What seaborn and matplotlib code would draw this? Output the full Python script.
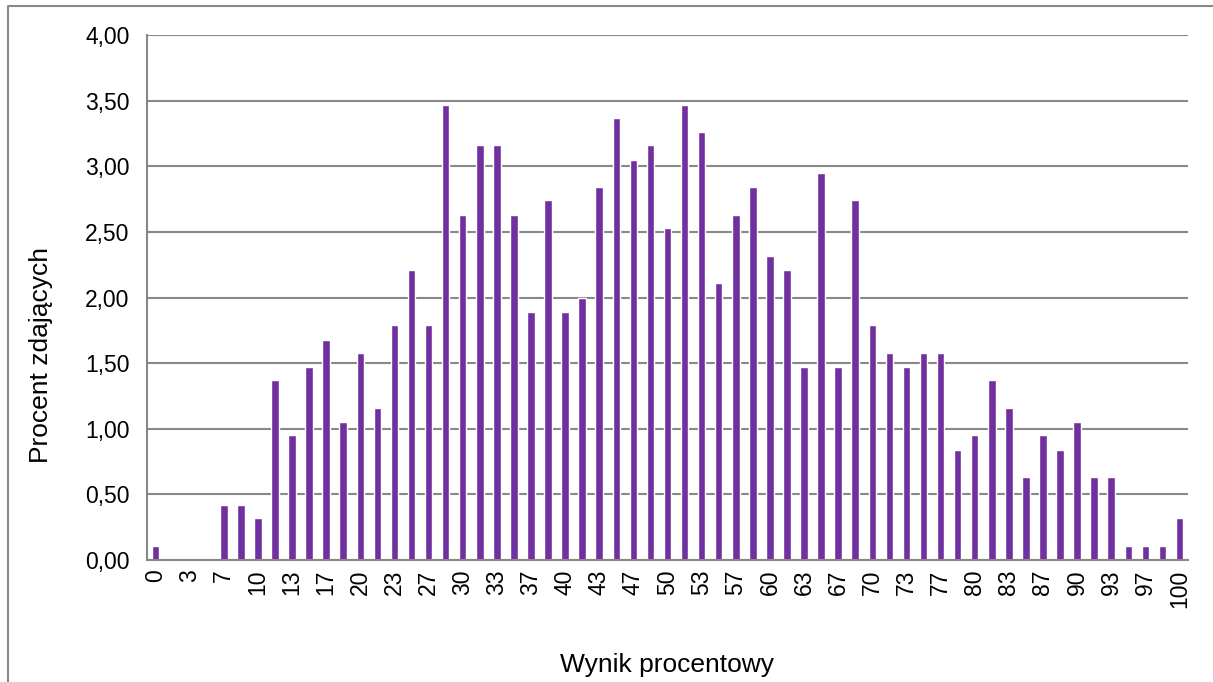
import numpy as np
import pandas as pd
import matplotlib
matplotlib.use('Agg')
import matplotlib.pyplot as plt
from matplotlib.lines import Line2D
from matplotlib.ticker import FuncFormatter, FixedLocator
import seaborn as sns

# Score categories (percent of max points) and share of students
wynik = [0, 2, 3, 5, 7, 8, 10, 12, 13, 15, 17, 18, 20, 22, 23, 25, 27, 28, 30, 32,
         33, 35, 37, 38, 40, 42, 43, 45, 47, 48, 50, 52, 53, 55, 57, 58, 60, 62, 63, 65,
         67, 68, 70, 72, 73, 75, 77, 78, 80, 82, 83, 85, 87, 88, 90, 92, 93, 95, 97, 98, 100]
procent = [0.11, 0.00, 0.00, 0.00, 0.42, 0.42, 0.32, 1.37, 0.95, 1.47,
           1.68, 1.05, 1.58, 1.16, 1.79, 2.21, 1.79, 3.47, 2.63, 3.16,
           3.16, 2.63, 1.89, 2.74, 1.89, 2.00, 2.84, 3.37, 3.05, 3.16,
           2.53, 3.47, 3.26, 2.11, 2.63, 2.84, 2.32, 2.21, 1.47, 2.95,
           1.47, 2.74, 1.79, 1.58, 1.47, 1.58, 1.58, 0.84, 0.95, 1.37,
           1.16, 0.63, 0.95, 0.84, 1.05, 0.63, 0.63, 0.11, 0.11, 0.11, 0.32]
y_ticks = [0, 0.5, 1.0, 1.5, 2.0, 2.5, 3.0, 3.5, 4.0]

df = pd.DataFrame({'wynik': [str(w) for w in wynik], 'procent': procent})

sns.set_style('white')
plt.rcParams['font.family'] = ['Liberation Sans', 'DejaVu Sans']
plt.rcParams['text.color'] = 'black'
plt.rcParams['axes.labelcolor'] = 'black'
plt.rcParams['xtick.labelcolor'] = 'black'
plt.rcParams['ytick.labelcolor'] = 'black'

fig = plt.figure(figsize=(12.13, 6.82), dpi=100)
ax = fig.add_axes([147 / 1213, 1 - 560 / 682, (1188 - 147) / 1213, (560 - 35) / 682])

sns.barplot(data=df, x='wynik', y='procent', order=df['wynik'].tolist(),
            color='#7030A0', saturation=1, width=0.44, ax=ax)

grid_c = '#888888'
ax.set_ylim(0, 4)
ax.set_xlim(-0.5, len(wynik) - 0.5)
ax.set_yticks(y_ticks)
ax.yaxis.set_major_formatter(FuncFormatter(lambda v, p: f'{v:.2f}'.replace('.', ',')))
ax.yaxis.grid(True, color=grid_c, linewidth=1.5)
ax.set_axisbelow(True)

# label every other category, ticks between categories
pos = list(range(0, len(wynik), 2))
ax.set_xticks(pos)
ax.set_xticklabels([df['wynik'][i] for i in pos], rotation=90)
ax.xaxis.set_minor_locator(FixedLocator(np.arange(-0.5, len(wynik), 1)))
ax.tick_params(axis='x', which='major', length=0, pad=7, labelsize=16.5)
ax.tick_params(axis='x', which='minor', length=4.5, color=grid_c, width=1.2)
ax.tick_params(axis='y', length=4.5, color=grid_c, width=1.2, labelsize=16.5, pad=8)

for s in ['top', 'right']:
    ax.spines[s].set_visible(False)
for s in ['left', 'bottom']:
    ax.spines[s].set_color(grid_c)
    ax.spines[s].set_linewidth(1.5)

ax.set_xlabel('Wynik procentowy', fontsize=19, va='center')
ax.xaxis.set_label_coords(0.5, -0.2)
ax.set_ylabel('Procent zdających', fontsize=19, va='center')
ax.yaxis.set_label_coords(-0.102, 0.39)

# chart area border (left and top edges visible)
fig.add_artist(Line2D([7.5 / 1213, 7.5 / 1213, 1], [0, 1 - 6 / 682, 1 - 6 / 682],
                      transform=fig.transFigure, color='#888888', linewidth=1.5))

fig.savefig('out.png', dpi=100)
